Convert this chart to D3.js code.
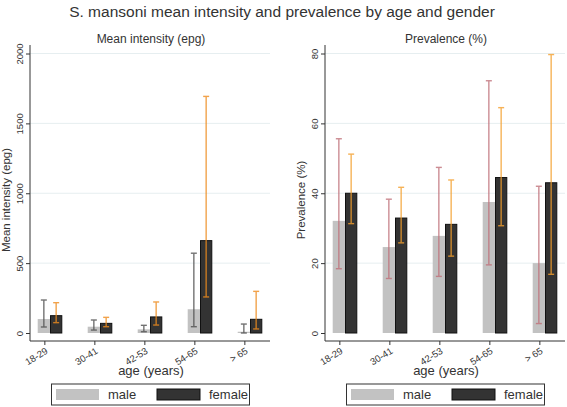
<!DOCTYPE html>
<html><head><meta charset="utf-8">
<script src="https://cdn.jsdelivr.net/npm/d3@7"></script>
<style>body{margin:0;background:#fff}svg{display:block;font-family:"Liberation Sans",Arial,sans-serif}</style>
</head><body>
<script>
const categories = ["18-29","30-41","42-53","54-65","> 65"];
const intMale    = [100, 45, 26, 170, 9];
const intMaleLo  = [43, 21, 9, 45, 0];
const intMaleHi  = [236, 93, 55, 571, 64];
const intFemale  = [124, 69, 115, 661, 98];
const intFemLo   = [74, 45, 57, 258, 29];
const intFemHi   = [217, 112, 222, 1693, 298];
const prevMale   = [32.1, 24.6, 27.8, 37.5, 20];
const prevMaleLo = [18.4, 15.6, 16.2, 19.5, 2.7];
const prevMaleHi = [55.6, 38.3, 47.4, 72.2, 42];
const prevFemale = [40, 32.9, 31.1, 44.5, 43];
const prevFemLo  = [31.3, 25.8, 22, 30.7, 16.8];
const prevFemHi  = [51.2, 41.7, 43.8, 64.5, 79.7];
const intTicks   = [0, 500, 1000, 1500, 2000];
const prevTicks  = [0, 20, 40, 60, 80];
const legendLabels = ["male","female"];

const W = 567, H = 407;
const svg = d3.select("body").append("svg").attr("width", W).attr("height", H);

svg.append("text").attr("x", 282).attr("y", 17).attr("text-anchor","middle")
  .attr("font-size", 15.5).attr("fill", "#333")
  .text("S. mansoni mean intensity and prevalence by age and gender");

function panel(x0, sub, ytitle, ticks, ymax, male, mLo, mHi, fem, fLo, fHi, mErrCol, fErrCol, yTitleY) {
  const g = svg.append("g");
  const x = d3.scalePoint().domain(categories).range([x0, x0 + 240]).padding(0.4);
  const y = d3.scaleLinear().domain([0, ymax]).range([333, 53.5]);
  const bw = 12.3;

  g.append("text").attr("x", x0 + 121).attr("y", 43).attr("text-anchor","middle")
    .attr("font-size", 12).attr("fill","#333").text(sub);

  g.selectAll(".grid").data(ticks.filter(t => t > 0)).join("line")
    .attr("x1", x0).attr("x2", x0 + 240).attr("y1", d => y(d)).attr("y2", d => y(d))
    .attr("stroke", "#e6eef0").attr("stroke-width", 1);

  g.selectAll(".bm").data(categories).join("rect")
    .attr("x", d => x(d) - bw).attr("width", bw)
    .attr("y", (d,i) => y(male[i])).attr("height", (d,i) => y(0) - y(male[i]))
    .attr("fill", "#c2c2c2");
  g.selectAll(".bf").data(categories).join("rect")
    .attr("x", d => x(d) + 0.5).attr("width", bw - 1)
    .attr("y", (d,i) => y(fem[i])).attr("height", (d,i) => y(0) - y(fem[i]))
    .attr("fill", "#333").attr("stroke", "#111").attr("stroke-width", 1);

  function errs(lo, hi, off, col) {
    const e = g.append("g").attr("stroke", col).attr("stroke-width", 1.4).attr("opacity", 0.8);
    categories.forEach((c, i) => {
      const cx = x(c) + off;
      e.append("line").attr("x1", cx).attr("x2", cx).attr("y1", y(lo[i])).attr("y2", y(hi[i]));
      e.append("line").attr("x1", cx - 3).attr("x2", cx + 3).attr("y1", y(lo[i])).attr("y2", y(lo[i]));
      e.append("line").attr("x1", cx - 3).attr("x2", cx + 3).attr("y1", y(hi[i])).attr("y2", y(hi[i]));
    });
  }
  errs(mLo, mHi, -bw/2, mErrCol);
  errs(fLo, fHi, bw/2, fErrCol);

  const ya = g.append("g").attr("transform", `translate(${x0},0)`)
    .call(d3.axisLeft(y).tickValues(ticks).tickSize(4).tickFormat(d3.format("d")));
  ya.select(".domain").attr("d", `M0,45V341`).attr("stroke","#333");
  ya.selectAll(".tick line").attr("stroke","#333");
  ya.selectAll(".tick text").attr("font-size", 9.5).attr("fill","#333")
    .attr("transform", "rotate(-90)").attr("x", 0).attr("y", -7).attr("dy", 0)
    .attr("text-anchor","middle").attr("font-family","Liberation Sans, Arial, sans-serif");

  const xa = g.append("g").attr("transform", "translate(0,341)");
  xa.append("line").attr("x1", x0).attr("x2", x0 + 240).attr("stroke", "#333");
  categories.forEach(c => {
    const tx = x(c) - bw/2 + 1;
    xa.append("line").attr("x1", tx).attr("x2", tx).attr("y1", 0).attr("y2", 4).attr("stroke","#333");
    xa.append("text").attr("transform", `translate(${tx},6) rotate(-32)`)
      .attr("text-anchor","end").attr("dy", "0.7em").attr("font-size", 9.5).attr("fill","#333").text(c);
  });

  g.append("text").attr("x", x0 + 121).attr("y", 375).attr("text-anchor","middle")
    .attr("font-size", 13).attr("fill","#333").text("age (years)");

  g.append("text").attr("transform", `translate(${x0 - 20},${yTitleY}) rotate(-90)`)
    .attr("text-anchor","middle").attr("font-size", 11.5).attr("fill","#333").text(ytitle);

  const lx = x0 + 21.5;
  g.append("rect").attr("x", lx).attr("y", 384).attr("width", 198).attr("height", 21)
    .attr("fill","#fff").attr("stroke","#333").attr("stroke-width", 1);
  const cols = ["#c2c2c2", "#333"];
  legendLabels.forEach((lab, i) => {
    const sx = lx + 4.5 + i * 101;
    g.append("rect").attr("x", sx).attr("y", 389).attr("width", 43).attr("height", 11)
      .attr("fill", cols[i]).attr("stroke", i ? "#111" : "none");
    g.append("text").attr("x", sx + 52).attr("y", 399).attr("font-size", 13).attr("fill","#333").text(lab);
  });
}

panel(30, "Mean intensity (epg)", "Mean intensity (epg)", intTicks, 2000,
  intMale, intMaleLo, intMaleHi, intFemale, intFemLo, intFemHi, "#505050", "#ef8c1e", 200);
panel(325, "Prevalence (%)", "Prevalence (%)", prevTicks, 80,
  prevMale, prevMaleLo, prevMaleHi, prevFemale, prevFemLo, prevFemHi, "#c07079", "#f5a02e", 200);
</script>
</body></html>
